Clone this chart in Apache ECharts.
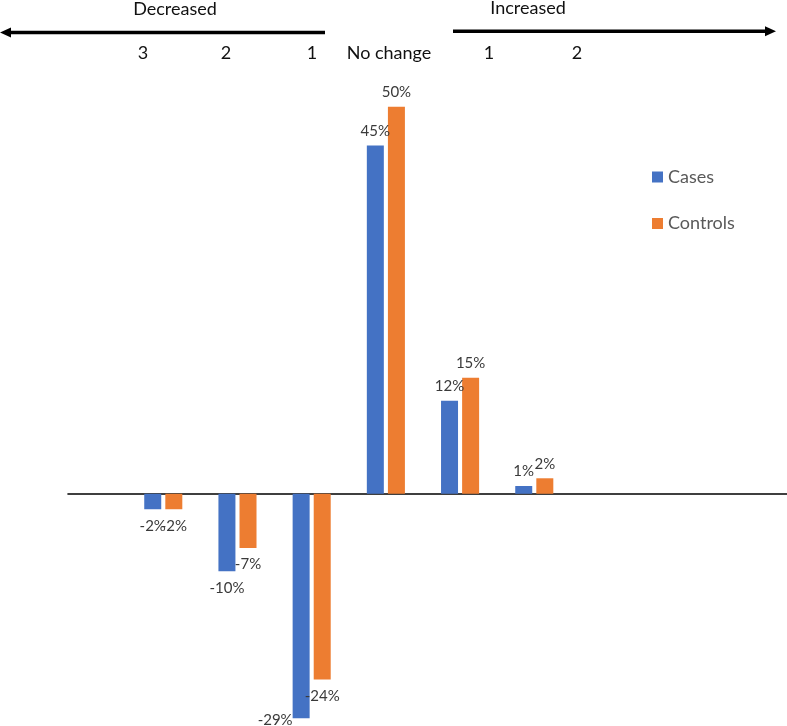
<!DOCTYPE html>
<html>
<head>
<meta charset="utf-8">
<script src="https://cdn.jsdelivr.net/npm/echarts@6/dist/echarts.min.js"></script>
<style>html,body{margin:0;padding:0;background:#fff;}#c{width:787px;height:726px;}</style>
</head>
<body>
<div id="c"></div>
<script>
const categories = ['3', '2', '1', 'No change', '1', '2'];
const cases = [-2, -10, -29, 45, 12, 1];
const controls = [-2, -7, -24, 50, 15, 2];
const seriesNames = ['Cases', 'Controls'];
const topLabels = ['3', '2', '1', 'No change', '1', '2'];
const topLabelX = [143, 226, 312, 389, 489, 577];

const FONT = 'Lato';
const fmt = v => v + '%';

function buildData(vals, special) {
  return vals.map((v, i) => {
    const item = { value: [i, v], label: { position: v < 0 ? 'bottom' : 'top', distance: v < 0 ? 9 : 7 } };
    if (special && special[i]) item.label.offset = special[i];
    return item;
  });
}

const chart = echarts.init(document.getElementById('c'), null, { renderer: 'canvas' });

const graphics = [];
graphics.push({ type: 'line', shape: { x1: 8, y1: 32.5, x2: 325, y2: 32.5 }, style: { stroke: '#000', lineWidth: 3.5 } });
graphics.push({ type: 'polygon', shape: { points: [[0, 32.5], [11, 27.5], [11, 37.5]] }, style: { fill: '#000' } });
graphics.push({ type: 'line', shape: { x1: 453, y1: 31.2, x2: 768, y2: 31.2 }, style: { stroke: '#000', lineWidth: 3.5 } });
graphics.push({ type: 'polygon', shape: { points: [[776, 31.2], [765, 26.2], [765, 36.2]] }, style: { fill: '#000' } });
graphics.push({ type: 'text', x: 175, y: 9, style: { text: 'Decreased', font: '18px ' + FONT, fill: '#111', textAlign: 'center', textVerticalAlign: 'middle' } });
graphics.push({ type: 'text', x: 528, y: 8, style: { text: 'Increased', font: '18px ' + FONT, fill: '#111', textAlign: 'center', textVerticalAlign: 'middle' } });
topLabels.forEach((t, i) => {
  graphics.push({ type: 'text', x: topLabelX[i], y: 53, style: { text: t, font: '18px ' + FONT, fill: '#111', textAlign: 'center', textVerticalAlign: 'middle' } });
});

const labelStyle = {
  show: true,
  formatter: p => fmt(p.value[1]),
  color: '#3a3a3a',
  fontFamily: FONT,
  fontSize: 15
};

chart.setOption({
  animation: false,
  backgroundColor: '#fff',
  graphic: graphics,
  legend: {
    orient: 'vertical',
    left: 652,
    top: 168,
    padding: 0,
    itemWidth: 11,
    itemHeight: 11,
    itemGap: 28.5,
    icon: 'rect',
    textStyle: { fontFamily: FONT, fontSize: 18, color: '#595959' },
    data: seriesNames
  },
  grid: { left: 68, right: 0, top: 68, height: 659 },
  xAxis: {
    type: 'value',
    min: -1.284,
    max: 8.406,
    axisLine: { show: true, onZero: true, lineStyle: { color: '#000', width: 1.6 } },
    axisTick: { show: false },
    axisLabel: { show: false },
    splitLine: { show: false }
  },
  yAxis: {
    type: 'value',
    min: -30,
    max: 55,
    show: false,
    splitLine: { show: false }
  },
  series: [
    {
      name: seriesNames[0],
      type: 'bar',
      barWidth: 17,
      barGap: '24%',
      itemStyle: { color: '#4472C4' },
      label: labelStyle,
      data: buildData(cases, { 2: [-26, -15] })
    },
    {
      name: seriesNames[1],
      type: 'bar',
      barWidth: 17,
      barGap: '24%',
      itemStyle: { color: '#ED7D31' },
      label: labelStyle,
      data: buildData(controls)
    }
  ]
});
</script>
</body>
</html>
